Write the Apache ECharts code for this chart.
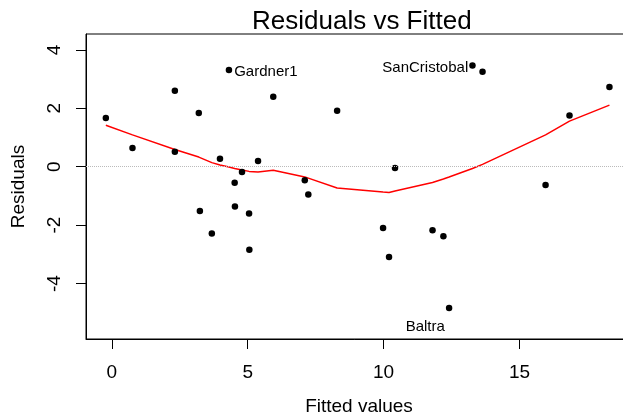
<!DOCTYPE html>
<html>
<head>
<meta charset="utf-8">
<script src="https://cdn.jsdelivr.net/npm/echarts@6/dist/echarts.min.js"></script>
<style>html,body{margin:0;padding:0;background:#fff;}#c{width:623px;height:418px;}</style>
</head>
<body>
<div id="c"></div>
<script>
var fitted = [-0.22, 0.76, 2.32, 2.32, 3.20, 3.24, 3.68, 3.98, 4.31, 4.52, 4.53, 4.79, 5.05, 5.06, 5.38, 5.94, 7.10, 7.23, 8.29, 9.98, 10.20, 10.42, 11.80, 12.20, 12.41, 13.27, 13.64, 15.96, 16.84, 18.31];
var residuals = [1.67, 0.64, 2.60, 0.51, 1.84, -1.52, -2.29, 0.27, 3.31, -0.55, -1.36, -0.18, -1.60, -2.84, 0.20, 2.40, -0.46, -0.95, 1.92, -2.10, -3.09, -0.04, -2.18, -2.38, -4.84, 3.47, 3.25, -0.63, 1.75, 2.73];
var smoothed = [1.42, 1.09, 0.59, 0.59, 0.33, 0.32, 0.14, 0.06, -0.01, -0.06, -0.08, -0.11, -0.16, -0.16, -0.18, -0.12, -0.35, -0.39, -0.73, -0.87, -0.88, -0.83, -0.54, -0.42, -0.35, -0.06, 0.08, 1.09, 1.56, 2.11];
var labelNames = ['Gardner1', 'SanCristobal', 'Baltra'];
var labelIndex = [8, 25, 24];
var xTicks = [0, 5, 10, 15];
var yTicks = [-4, -2, 0, 2, 4];

var FONT = "'Liberation Sans', Arial, sans-serif";
var labelStyles = [
  {position: 'right', distance: 2, offset: [0, 1.5]},
  {position: 'left', distance: 1, offset: [0, 2]},
  {position: 'left', distance: 1, offset: [0, 19]}
];

var scatterData = fitted.map(function (x, i) {
  var item = {value: [x, residuals[i]]};
  var k = labelIndex.indexOf(i);
  if (k >= 0) {
    item.label = Object.assign({
      show: true,
      formatter: labelNames[k],
      color: '#000',
      fontSize: 15,
      fontFamily: FONT
    }, labelStyles[k]);
  }
  return item;
});
var lineData = fitted.map(function (x, i) { return [x, smoothed[i]]; });

var chart = echarts.init(document.getElementById('c'), null, {renderer: 'canvas'});
chart.setOption({
  animation: false,
  backgroundColor: '#fff',
  title: {
    text: 'Residuals vs Fitted',
    left: 252, top: 9, padding: 0,
    textStyle: {fontFamily: FONT, fontSize: 26, fontWeight: 'normal', color: '#000'}
  },
  grid: {
    left: 86, top: 34, right: -9, bottom: 79,
    containLabel: false, outerBoundsMode: 'none',
    show: true, borderColor: '#000', borderWidth: 1, backgroundColor: 'transparent'
  },
  xAxis: {
    type: 'value', min: -0.95, max: 19.14,
    name: 'Fitted values', nameLocation: 'middle', nameGap: 58,
    nameTextStyle: {fontFamily: FONT, fontSize: 19, color: '#000'},
    axisLine: {show: true, onZero: false, lineStyle: {color: '#000', width: 1}},
    axisTick: {show: true, length: 10, customValues: xTicks, lineStyle: {color: '#000'}},
    axisLabel: {customValues: xTicks, margin: 24, fontFamily: FONT, fontSize: 19, color: '#000'},
    splitLine: {show: false}
  },
  yAxis: {
    type: 'value', min: -5.9, max: 4.545,
    name: 'Residuals', nameLocation: 'middle', nameGap: 58,
    nameTextStyle: {fontFamily: FONT, fontSize: 19, color: '#000'},
    axisLine: {show: true, onZero: false, lineStyle: {color: '#000', width: 1}},
    axisTick: {show: true, length: 10, customValues: yTicks, lineStyle: {color: '#000'}},
    axisLabel: {customValues: yTicks, rotate: 90, margin: 22, fontFamily: FONT, fontSize: 19, color: '#000'},
    splitLine: {show: false}
  },
  series: [
    {
      type: 'line',
      data: lineData,
      symbol: 'none',
      lineStyle: {color: '#ff0000', width: 1.5},
      z: 2,
      markLine: {
        silent: true, symbol: 'none', label: {show: false},
        lineStyle: {color: '#bbbbbb', type: 'dotted', width: 1},
        data: [{yAxis: 0}]
      }
    },
    {
      type: 'scatter',
      data: scatterData,
      symbol: 'circle',
      symbolSize: 6.5,
      itemStyle: {color: '#000', opacity: 1},
      z: 3
    }
  ]
});
</script>
</body>
</html>
